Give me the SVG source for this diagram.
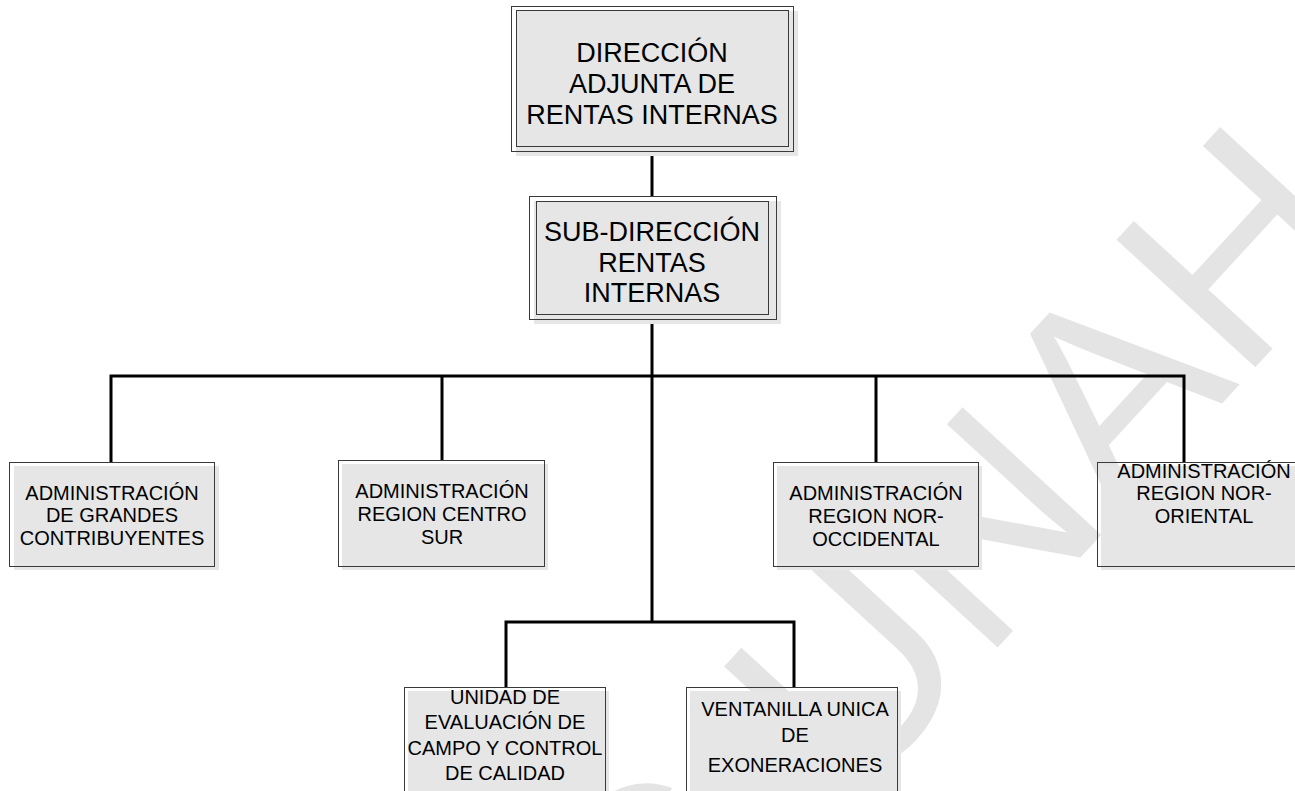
<svg xmlns="http://www.w3.org/2000/svg" width="1295" height="791" viewBox="0 0 1295 791">
<style>
.shadow{fill:#e6e6e6;stroke:none}
.frame{fill:none;stroke:#3a3a3a;stroke-width:1}
.lbl{font-family:"Liberation Sans",Arial,sans-serif;fill:#000;text-anchor:middle}
.big{font-size:27px}
.sm{font-size:20px}
.md{font-size:20px}
.conn{fill:none;stroke:#000;stroke-width:3}
.wm{font-family:"Liberation Sans",Arial,sans-serif;font-size:274px;fill:#e4e4e4}
</style>
<rect x="0" y="0" width="1295" height="791" fill="#fff"/>
<g id="watermark" transform="translate(1240,384) rotate(-47.4)">
<text class="wm" x="198" y="0" text-anchor="end">C-UNAH</text>
</g>
<g id="connectors">
<path class="conn" d="M652 151V196"/>
<path class="conn" d="M652 319V622"/>
<path class="conn" d="M111 462V376H1184V462"/>
<path class="conn" d="M442 376V460"/>
<path class="conn" d="M876 376V462"/>
<path class="conn" d="M506 687V622H794V687"/>
</g>
<g id="n-direccion">
<rect class="shadow" x="516" y="11" width="282" height="145"/>
<rect class="frame" x="511.5" y="6.5" width="282" height="145"/>
<rect class="frame" x="516.5" y="10.5" width="272" height="136"/>
<text class="lbl big" x="652" y="62">DIRECCIÓN</text>
<text class="lbl big" x="652" y="93">ADJUNTA DE</text>
<text class="lbl big" x="652" y="124">RENTAS INTERNAS</text>
</g>
<g id="n-subdireccion">
<rect class="shadow" x="534" y="201" width="247" height="123"/>
<rect class="frame" x="529.5" y="196.5" width="247" height="123"/>
<rect class="frame" x="536.5" y="201.5" width="232" height="113"/>
<text class="lbl big" x="652" y="241">SUB-DIRECCIÓN</text>
<text class="lbl big" x="652" y="272">RENTAS</text>
<text class="lbl big" x="652" y="302">INTERNAS</text>
</g>
<g id="n-grandes">
<rect class="shadow" x="14" y="466" width="205" height="104"/>
<rect class="frame" x="9.5" y="462.5" width="205" height="104"/>
<text class="lbl sm" x="112" y="500">ADMINISTRACIÓN</text>
<text class="lbl sm" x="112" y="522">DE GRANDES</text>
<text class="lbl sm" x="112" y="545">CONTRIBUYENTES</text>
</g>
<g id="n-centrosur">
<rect class="shadow" x="342" y="464" width="206" height="106"/>
<rect class="frame" x="338.5" y="460.5" width="206" height="106"/>
<text class="lbl sm" x="442" y="498">ADMINISTRACIÓN</text>
<text class="lbl sm" x="442" y="521">REGION CENTRO</text>
<text class="lbl sm" x="442" y="544">SUR</text>
</g>
<g id="n-noroccidental">
<rect class="shadow" x="777" y="466" width="205" height="104"/>
<rect class="frame" x="773.5" y="462.5" width="205" height="104"/>
<text class="lbl sm" x="876" y="500">ADMINISTRACIÓN</text>
<text class="lbl sm" x="876" y="523">REGION NOR-</text>
<text class="lbl sm" x="876" y="546">OCCIDENTAL</text>
</g>
<g id="n-nororiental">
<rect class="shadow" x="1101" y="466" width="205" height="104"/>
<rect class="frame" x="1097.5" y="462.5" width="205" height="104"/>
<text class="lbl sm" x="1204" y="478">ADMINISTRACIÓN</text>
<text class="lbl sm" x="1204" y="500">REGION NOR-</text>
<text class="lbl sm" x="1204" y="523">ORIENTAL</text>
</g>
<g id="n-unidad">
<rect class="shadow" x="408" y="691" width="201" height="110"/>
<rect class="frame" x="404.5" y="687.5" width="201" height="110"/>
<text class="lbl md" x="505" y="704">UNIDAD DE</text>
<text class="lbl md" x="505" y="729">EVALUACIÓN DE</text>
<text class="lbl md" x="505" y="755">CAMPO Y CONTROL</text>
<text class="lbl md" x="505" y="780">DE CALIDAD</text>
</g>
<g id="n-ventanilla">
<rect class="shadow" x="690" y="691" width="211" height="110"/>
<rect class="frame" x="686.5" y="687.5" width="211" height="110"/>
<text class="lbl md" x="795" y="716">VENTANILLA UNICA</text>
<text class="lbl md" x="795" y="742">DE</text>
<text class="lbl md" x="795" y="772">EXONERACIONES</text>
</g>
</svg>
